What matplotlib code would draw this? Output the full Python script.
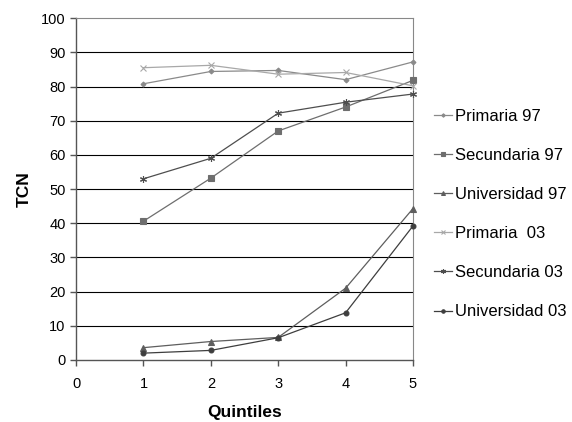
import matplotlib
matplotlib.use("Agg")
import matplotlib.pyplot as plt

plt.rcParams['font.family'] = ['Liberation Sans', 'DejaVu Sans']

quintiles = [1, 2, 3, 4, 5]
primaria_97 = [80.8, 84.4, 84.7, 82.0, 87.2]
secundaria_97 = [40.6, 53.2, 67.0, 74.0, 81.8]
universidad_97 = [3.6, 5.4, 6.6, 21.0, 44.3]
primaria_03 = [85.5, 86.2, 83.6, 84.1, 80.2]
secundaria_03 = [53.0, 59.0, 72.2, 75.4, 77.8]
universidad_03 = [2.0, 2.8, 6.5, 13.8, 39.2]

series = [
    ("Primaria 97", primaria_97, "#8a8a8a", "D", 2.5),
    ("Secundaria 97", secundaria_97, "#6e6e6e", "s", 4),
    ("Universidad 97", universidad_97, "#5e5e5e", "^", 4),
    ("Primaria  03", primaria_03, "#a8a8a8", "x", 4),
    ("Secundaria 03", secundaria_03, "#4e4e4e", (6, 2, 0), 5),
    ("Universidad 03", universidad_03, "#3e3e3e", "o", 3.5),
]

fig = plt.figure(figsize=(5.72, 4.22), dpi=100)
ax = fig.add_axes([0.133, 0.147, 0.589, 0.810])

for label, vals, color, marker, ms in series:
    ax.plot(quintiles, vals, color=color, lw=0.9, marker=marker, ms=ms,
            markeredgewidth=0.8, label=label, clip_on=False, zorder=3)

ax.set_xlim(0, 5)
ax.set_ylim(0, 100)
ax.set_xticks(range(0, 6))
ax.set_yticks(range(0, 101, 10))
for y in range(10, 100, 10):
    ax.axhline(y, color="black", lw=0.8, zorder=1)

for side in ("top", "right"):
    ax.spines[side].set_color("#888888")
    ax.spines[side].set_linewidth(0.8)
for side in ("left", "bottom"):
    ax.spines[side].set_color("#555555")
    ax.spines[side].set_linewidth(1.0)

ax.tick_params(axis="both", labelsize=10.5, length=4, width=1.0, color="#555555")
ax.tick_params(axis="x", pad=8)

ax.set_xlabel("Quintiles", fontsize=12.5, fontweight="bold", labelpad=10)
ax.set_ylabel("TCN", fontsize=12.5, fontweight="bold", labelpad=7)

ax.legend(loc="center left", bbox_to_anchor=(1.0, 0.427), frameon=False,
          fontsize=12, handlelength=1.08, handletextpad=0.2, labelspacing=1.45,
          borderaxespad=0.85, markerscale=0.7)

fig.savefig("out.png", dpi=100)
